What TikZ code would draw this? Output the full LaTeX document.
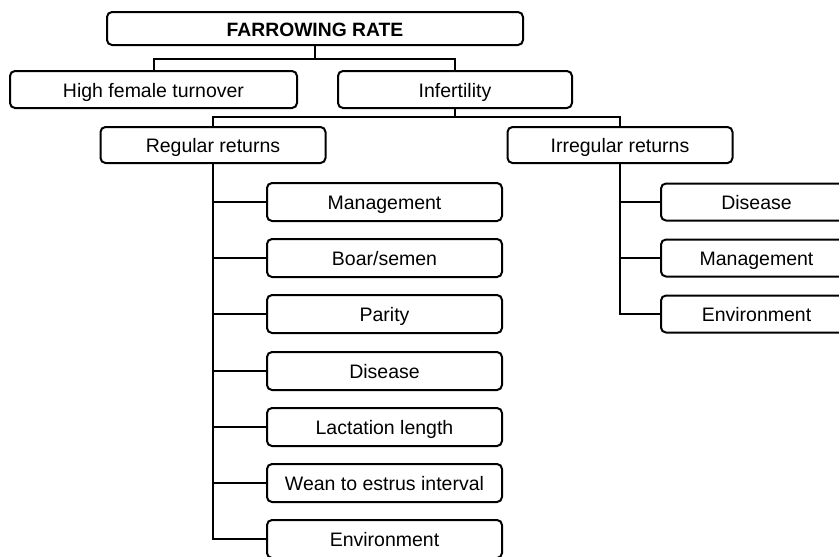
\documentclass[tikz,border=0pt]{standalone}
\usepackage{fontspec}
\setmainfont{Liberation Sans}
\begin{document}
\begin{tikzpicture}[x=1pt,y=-1pt,
  box/.style={draw,line width=2pt,rounded corners=5pt,inner sep=0pt,
    text height=15.5pt,text depth=0pt,
    font=\fontsize{19.5}{22}\selectfont},
  link/.style={line width=2pt}]
\clip (0,0) rectangle (839,557);
\fill[white] (0,0) rectangle (839,557);
\node[box,minimum width=416pt,minimum height=33pt,font=\fontsize{19.3}{22}\selectfont\bfseries] (fr) at (315,28.5) {FARROWING RATE};
\node[box,minimum width=287pt,minimum height=37pt] (hft) at (153.5,89.5) {High female turnover};
\node[box,minimum width=234pt,minimum height=37pt] (inf) at (455,89.5) {Infertility};
\node[box,minimum width=225pt,minimum height=36pt] (reg) at (213,145) {Regular returns};
\node[box,minimum width=225pt,minimum height=36pt] (irr) at (620,145) {Irregular returns};
\foreach \n/\t/\y in {a1/Management/202,a2/Boar\slash semen/258,a3/Parity/314,a4/Disease/371,a5/Lactation length/427,a6/Wean to estrus interval/483,a7/Environment/539}
  \node[box,minimum width=235pt,minimum height=38pt] (\n) at (384.5,\y) {\t};
\foreach \n/\t/\y in {b1/Disease/202,b2/Management/258,b3/Environment/314}
  \node[box,minimum width=191pt,minimum height=37pt] (\n) at (756.5,\y) {\t};
\coordinate (j1) at (315,59);
\coordinate (j2) at (455,117);
\draw[link] (fr.south) -- (j1);
\draw[link] (hft.north) |- (j1) -| (inf.north);
\draw[link] (inf.south) -- (j2);
\draw[link] (reg.north) |- (j2) -| (irr.north);
\draw[link] (reg.south) |- (a7.west);
\foreach \n in {a1,a2,a3,a4,a5,a6}
  \draw[link] (reg.south |- \n.west) -- (\n.west);
\draw[link] (irr.south) |- (b3.west);
\foreach \n in {b1,b2}
  \draw[link] (irr.south |- \n.west) -- (\n.west);
\end{tikzpicture}
\end{document}
